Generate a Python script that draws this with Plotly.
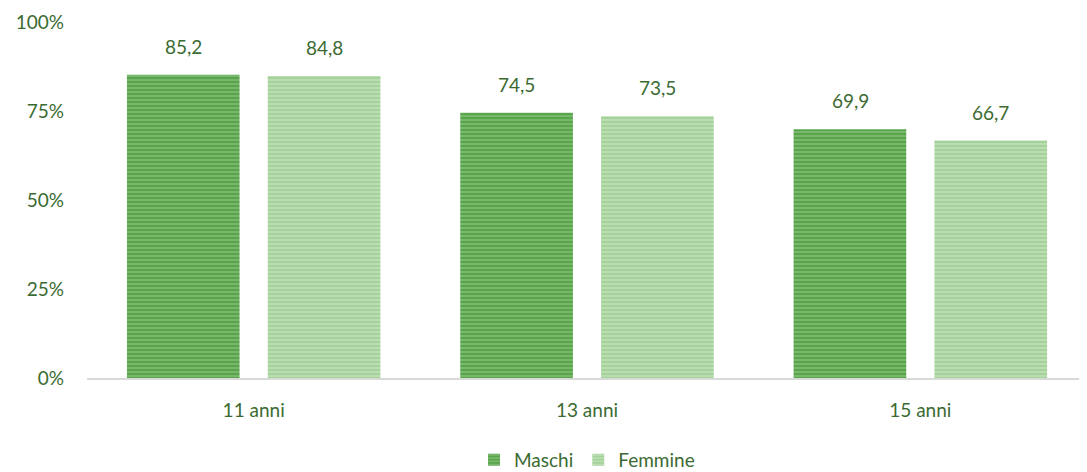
import plotly.graph_objects as go

categories = ["11 anni", "13 anni", "15 anni"]
maschi = [85.2, 74.5, 69.9]
femmine = [84.8, 73.5, 66.7]
y_ticks = [0, 25, 50, 75, 100]
y_tick_labels = ["0%", "25%", "50%", "75%", "100%"]

text_color = "#3b6b32"
font_family = "Lato, 'Open Sans', sans-serif"

def fmt(v):
    return f"{v:.1f}".replace(".", ",")

fig = go.Figure()
fig.add_trace(go.Bar(
    name="Maschi", x=categories, y=maschi,
    marker=dict(color="#58a54c", line=dict(width=0),
                pattern=dict(shape="-", fgcolor="#b3d9a9", size=4, solidity=0.35)),
))
fig.add_trace(go.Bar(
    name="Femmine", x=categories, y=femmine,
    marker=dict(color="#a5d29a", line=dict(width=0),
                pattern=dict(shape="-", fgcolor="#e2f1dd", size=4, solidity=0.35)),
))

annotations = []
for i, c in enumerate(categories):
    for vals, off in [(maschi, -0.211), (femmine, 0.211)]:
        annotations.append(dict(
            x=i + off, y=vals[i], xref="x", yref="y", text=fmt(vals[i]),
            showarrow=False, yanchor="bottom", yshift=15,
            font=dict(size=19, color=text_color, family=font_family)))

# the page body adds an 8px offset, so the figure is sized to compensate
fig.update_layout(
    width=1079, height=464,
    margin=dict(l=79, r=0, t=14, b=94, autoexpand=False),
    paper_bgcolor="white", plot_bgcolor="white",
    barmode="group", bargap=0.155, bargroupgap=0.2,
    font=dict(family=font_family, size=19, color=text_color),
    showlegend=True,
    legend=dict(orientation="h", x=0.5, xanchor="center", y=-0.23, yanchor="middle",
                font=dict(size=19, color=text_color), traceorder="normal"),
    annotations=annotations,
    xaxis=dict(showline=True, linecolor="#d9d9d9", linewidth=2, ticks="",
               automargin=False, ticklabelstandoff=14,
               tickfont=dict(size=19, color=text_color)),
    yaxis=dict(range=[0, 100], tickvals=y_ticks, ticktext=y_tick_labels,
               showgrid=False, zeroline=False, showline=False, ticks="",
               automargin=False, ticklabelstandoff=22,
               tickfont=dict(size=19, color=text_color)),
)

fig.write_html("out.html")
